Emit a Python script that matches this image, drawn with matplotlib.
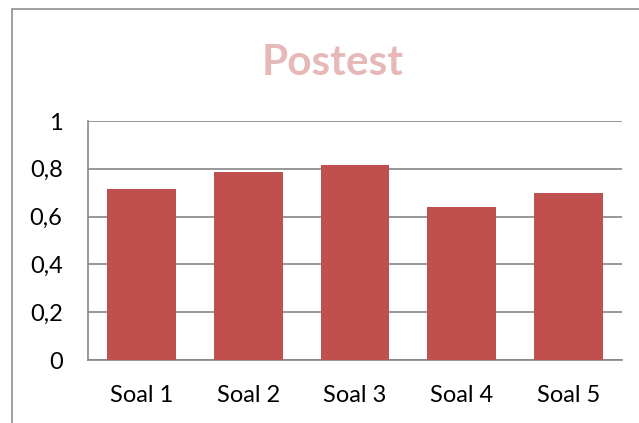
import matplotlib.pyplot as plt
from matplotlib.patches import Rectangle
from matplotlib.ticker import FuncFormatter

# data
categories = ["Soal 1", "Soal 2", "Soal 3", "Soal 4", "Soal 5"]
values = [0.714, 0.785, 0.816, 0.639, 0.697]
y_ticks = [0, 0.2, 0.4, 0.6, 0.8, 1]

W, H = 639, 423
fig = plt.figure(figsize=(W / 100, H / 100), dpi=100)
fig.patch.set_facecolor("white")

# chart area border (cropped on the right and bottom)
fig.patches.append(Rectangle((12 / W, -0.1), 1.2, 1 - 9 / H + 0.1,
                             transform=fig.transFigure, fill=False,
                             edgecolor="#868686", linewidth=1.1))

ax = fig.add_axes([88.3 / W, 63 / H, 533.4 / W, 239 / H])
x = range(len(categories))
ax.bar(x, values, width=0.644, color="#C0504D", zorder=3)

ax.set_xlim(-0.5, len(categories) - 0.5)
ax.set_ylim(0, 1)
ax.set_yticks(y_ticks)
ax.yaxis.set_major_formatter(FuncFormatter(lambda v, p: f"{v:g}".replace(".", ",")))
ax.set_xticks(list(x))
ax.set_xticklabels(categories)

ax.grid(axis="y", color="#868686", linewidth=1.2, zorder=0)
for side in ["top", "right"]:
    ax.spines[side].set_visible(False)
for side in ["left", "bottom"]:
    ax.spines[side].set_color("#868686")
    ax.spines[side].set_linewidth(1.2)

ax.tick_params(axis="y", length=0, pad=18.5, labelsize=17)
ax.tick_params(axis="x", length=0, pad=18, labelsize=17)
for lab in ax.get_xticklabels() + ax.get_yticklabels():
    lab.set_fontfamily("Lato")

fig.text(333 / W, 1 - 75 / H, "Postest", ha="center", va="baseline",
         fontsize=30.5, fontweight="bold", color="#E6B9B8", family="Lato")

fig.savefig("out.png", dpi=100)
